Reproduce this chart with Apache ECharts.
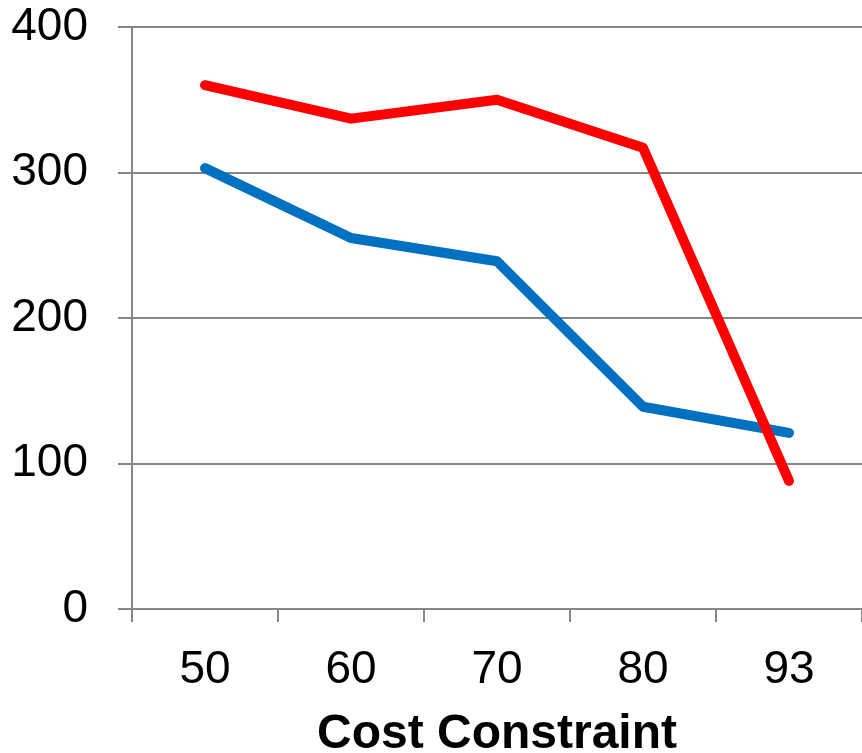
<!DOCTYPE html>
<html>
<head>
<meta charset="utf-8">
<script src="https://cdn.jsdelivr.net/npm/echarts@6/dist/echarts.min.js"></script>
<style>
  html, body { margin: 0; padding: 0; background: #fff; }
  #mychart { width: 862px; height: 753px; }
</style>
</head>
<body>
<div id="mychart"></div>
<script>
// data
var categories = ['50', '60', '70', '80', '93'];
var redValues = [360, 337, 350, 317, 88];
var blueValues = [303, 255, 239, 139, 121];
var yTicks = [0, 100, 200, 300, 400];

var axisGray = '#868686';
var fontFamily = '"Liberation Sans", Arial, sans-serif';

var myChart = echarts.init(document.getElementById('mychart'));
var option = {
  backgroundColor: '#ffffff',
  animation: false,
  // keep the grid where it is, the axis name may reach the bottom edge
  grid: { left: 132, right: 0, top: 27, bottom: 144, outerBoundsMode: 'none' },
  xAxis: {
    type: 'category',
    data: categories,
    boundaryGap: true,
    name: 'Cost Constraint',
    nameLocation: 'middle',
    nameGap: 102,
    nameTextStyle: { fontFamily: fontFamily, fontSize: 48, fontWeight: 'bold', color: '#000' },
    axisLine: { lineStyle: { color: axisGray, width: 2 } },
    axisTick: { show: true, length: 13, lineStyle: { color: axisGray, width: 2 } },
    axisLabel: { margin: 38, fontFamily: fontFamily, fontSize: 46, color: '#000' },
    splitLine: { show: false }
  },
  yAxis: {
    type: 'value',
    min: yTicks[0],
    max: yTicks[yTicks.length - 1],
    interval: 100,
    axisLine: { show: true, lineStyle: { color: axisGray, width: 2 } },
    axisTick: { show: true, length: 14, lineStyle: { color: axisGray, width: 2 } },
    axisLabel: { margin: 44, fontFamily: fontFamily, fontSize: 46, color: '#000' },
    splitLine: { show: true, lineStyle: { color: axisGray, width: 2 } }
  },
  series: [
    {
      name: 'red',
      type: 'line',
      data: redValues,
      showSymbol: false,
      lineStyle: { color: '#ff0000', width: 10, cap: 'round', join: 'round' },
      z: 3
    },
    {
      name: 'blue',
      type: 'line',
      data: blueValues,
      showSymbol: false,
      lineStyle: { color: '#0070c0', width: 10, cap: 'round', join: 'round' },
      z: 2
    }
  ]
};
myChart.setOption(option);
</script>
</body>
</html>
